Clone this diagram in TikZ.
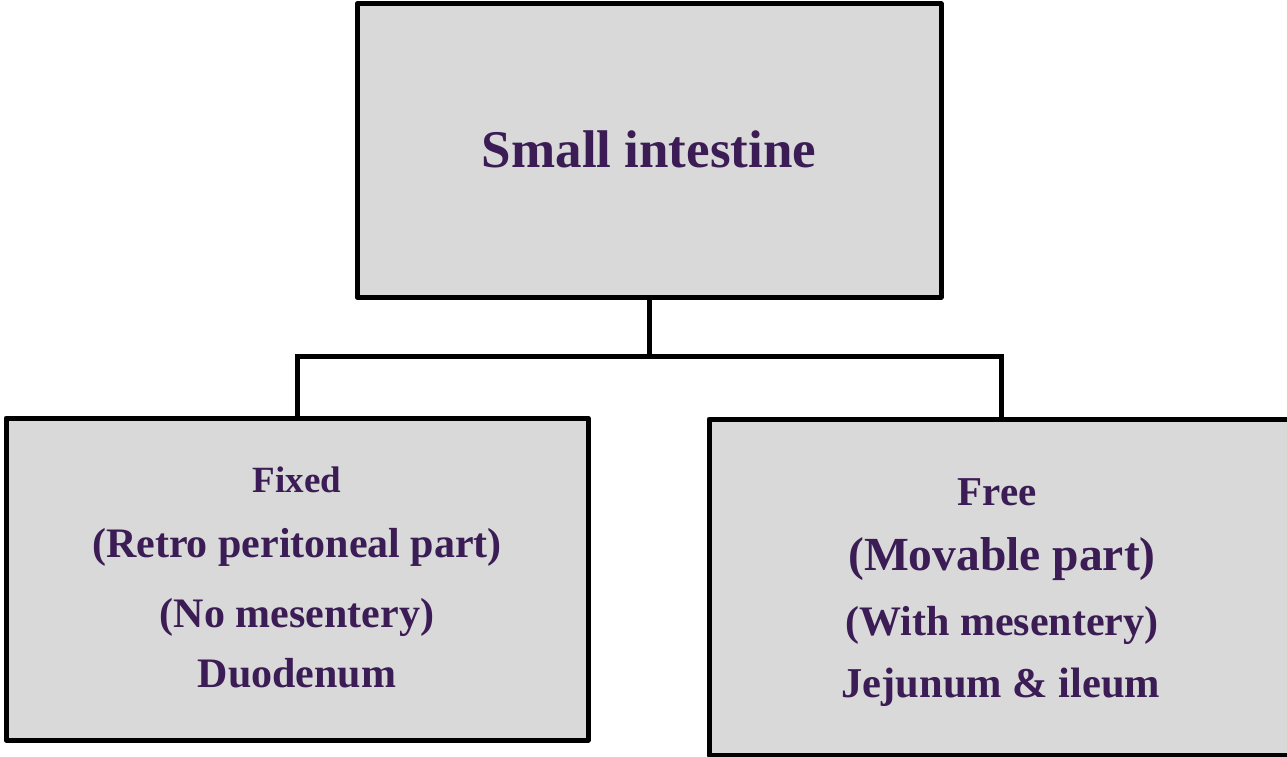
\documentclass[tikz,border=0pt]{standalone}
\usepackage{fontspec}
\setmainfont{Liberation Serif}
\definecolor{boxfill}{HTML}{D9D9D9}
\definecolor{txt}{HTML}{3B1C55}
\begin{document}
\begin{tikzpicture}[x=1pt,y=-1pt,
  box/.style={draw=black,line width=5pt,fill=boxfill,rectangle,inner sep=0pt,line join=round},
  lbl/.style={anchor=base,text=txt,font=\bfseries,inner sep=0pt},
  link/.style={line width=5pt,line join=miter}]
\useasboundingbox (0,0) rectangle (1287,757);
\node[box,minimum width=584pt,minimum height=293pt] (top) at (649,150.5) {};
\node[box,minimum width=582pt,minimum height=322pt] (left) at (297,579) {};
\node[box,minimum width=590pt,minimum height=336pt] (right) at (1004,587) {};
\coordinate (mid) at (649,356);
\coordinate (lc) at (297,356);
\coordinate (rc) at (1001,356);
\draw[link] (top.south) -- (mid);
\draw[link] (lc |- left.north) -- (lc) -- (rc) -- (rc |- right.north);
\node[lbl,font=\bfseries\fontsize{53}{60}\selectfont] (t1) at (649,167) {Small intestine};
\node[lbl,font=\bfseries\fontsize{37}{42}\selectfont] (l1) at (297,492) {Fixed};
\node[lbl,font=\bfseries\fontsize{42}{48}\selectfont] (l2) at (297,557) {(Retro peritoneal part)};
\node[lbl,font=\bfseries\fontsize{42}{48}\selectfont] (l3) at (297,627) {(No mesentery)};
\node[lbl,font=\bfseries\fontsize{42}{48}\selectfont] (l4) at (297,687) {Duodenum};
\node[lbl,font=\bfseries\fontsize{41}{46}\selectfont] (r1) at (997,505) {Free};
\node[lbl,font=\bfseries\fontsize{47.5}{52}\selectfont] (r2) at (1002,570) {(Movable part)};
\node[lbl,font=\bfseries\fontsize{42}{48}\selectfont] (r3) at (1002,635) {(With mesentery)};
\node[lbl,font=\bfseries\fontsize{42.5}{48}\selectfont] (r4) at (1001,697) {Jejunum \& ileum};
\end{tikzpicture}
\end{document}
